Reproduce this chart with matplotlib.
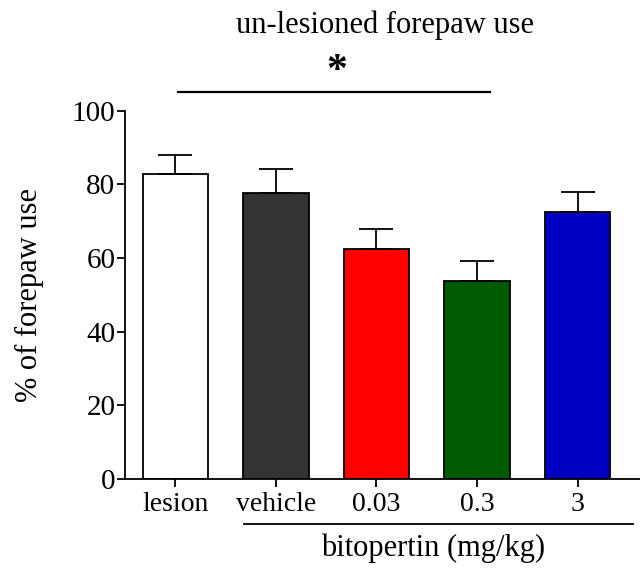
import matplotlib
matplotlib.use("Agg")
import matplotlib.pyplot as plt
import numpy as np

plt.rcParams["font.family"] = ["Liberation Serif", "DejaVu Serif"]

groups = ["lesion", "vehicle", "0.03", "0.3", "3"]
means = [82.8, 77.6, 62.5, 53.7, 72.6]
sems = [5.2, 6.6, 5.4, 5.6, 5.4]
colors = ["#FFFFFF", "#333333", "#FF0000", "#005A00", "#0000C0"]
yticks = [0, 20, 40, 60, 80, 100]

fig = plt.figure(figsize=(6.4, 5.7), dpi=100)
ax = fig.add_axes([0.1953, 0.1596, 0.8047, 0.6462])

x = np.arange(len(groups))
lw = 1.3
ax.bar(x, means, width=0.65, color=colors, edgecolor="black", linewidth=lw, zorder=2)
ax.errorbar(x, means, yerr=[np.zeros(len(sems)), sems], fmt="none",
            ecolor="black", elinewidth=lw, capsize=12, capthick=lw, zorder=3)

ax.set_xlim(-0.5, 4.62)
ax.set_ylim(0, 100)
ax.set_yticks(yticks)
ax.set_xticks(x)
ax.set_xticklabels(groups, fontsize=20)
ax.tick_params(axis="y", labelsize=21, length=6, width=lw, pad=1)
ax.tick_params(axis="x", length=6, width=lw, pad=3)
for side in ("top", "right"):
    ax.spines[side].set_visible(False)
for side in ("left", "bottom"):
    ax.spines[side].set_linewidth(lw)

ax.set_ylabel("% of forepaw use", fontsize=22, labelpad=20)

# significance bracket between lesion and 0.3 mg/kg
ax.plot([0.03, 3.13], [105.2, 105.2], color="black", lw=1.6, clip_on=False)
ax.text(1.6, 110.5, "*", ha="center", va="center", fontsize=30, fontweight="bold")
ax.text(2.08, 123.2, "un-lesioned forepaw use", ha="center", va="center", fontsize=22)

# grouping line under the bitopertin doses
ax.plot([0.68, 4.55], [-0.122, -0.122], color="black", lw=1.3, clip_on=False,
        transform=ax.get_xaxis_transform())
ax.text(2.56, -0.187, "bitopertin (mg/kg)", ha="center", va="center", fontsize=22,
        transform=ax.get_xaxis_transform())

fig.savefig("out.png", dpi=100)
